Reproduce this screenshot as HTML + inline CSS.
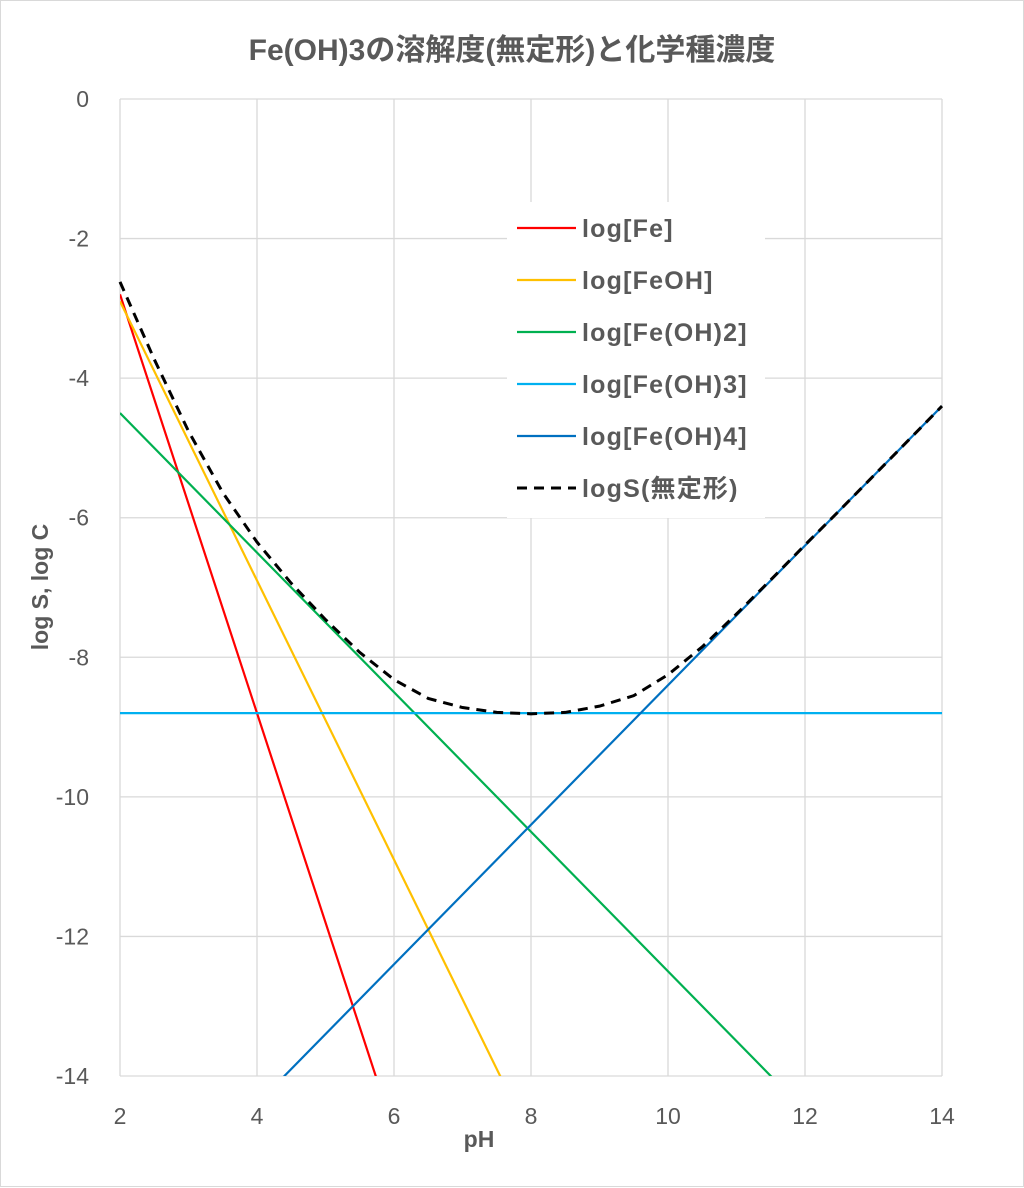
<!DOCTYPE html>
<html><head><meta charset="utf-8"><style>
html,body{margin:0;padding:0;background:#fff;overflow:hidden;width:1024px;height:1188px}
svg{display:block;overflow:hidden}
svg text{font-family:"Liberation Sans","Noto Sans CJK JP",sans-serif}
</style></head><body>
<svg id="chart" width="1024" height="1188" xmlns="http://www.w3.org/2000/svg">
<rect x="0.5" y="0.5" width="1023" height="1186" fill="#fff" stroke="#d9d9d9"/>
<text x="512" y="60" text-anchor="middle" font-size="30" font-weight="bold" fill="#595959">Fe(OH)3の溶解度(無定形)と化学種濃度</text>
<g id="grid"></g><g id="series"></g><g id="ticks"></g>
<text x="479" y="1147" text-anchor="middle" font-size="23" font-weight="bold" fill="#595959">pH</text>
<text transform="translate(48,587) rotate(-90)" text-anchor="middle" font-size="23" font-weight="bold" fill="#595959">log S, log C</text>
<g id="legend"></g>
</svg>
<script>
const xTicks=[2,4,6,8,10,12,14];
const yTicks=[0,-2,-4,-6,-8,-10,-12,-14];
const speciesNames=["log[Fe]","log[FeOH]","log[Fe(OH)2]","log[Fe(OH)3]","log[Fe(OH)4]"];
const speciesColors=["#ff0000","#ffc000","#00b050","#00b0f0","#0070c0"];
const speciesIntercept=[3.2,1.1,-2.5,-8.8,-18.4];
const speciesSlope=[-3,-2,-1,0,1];
const sPH=[2,2.5,3,3.5,4,4.5,5,5.5,6,6.5,7,7.5,8,8.5,9,9.5,10,10.5,11,11.5,12,12.5,13,13.5,14];
const sVal=[-2.62,-3.73,-4.76,-5.64,-6.35,-6.94,-7.46,-7.93,-8.32,-8.59,-8.72,-8.79,-8.81,-8.79,-8.70,-8.55,-8.25,-7.85,-7.38,-6.89,-6.39,-5.9,-5.4,-4.9,-4.4];
const X0=120,X1=942,Y0=99,Y1=1076;
const xs=v=>X0+(v-2)/12*(X1-X0);
const ys=v=>Y0+(0-v)/14*(Y1-Y0);
const NS="http://www.w3.org/2000/svg";
function mk(t,a,p){const e=document.createElementNS(NS,t);for(const k in a)e.setAttribute(k,a[k]);p.appendChild(e);return e;}
const grid=document.getElementById('grid'),ticks=document.getElementById('ticks'),ser=document.getElementById('series'),leg=document.getElementById('legend');
xTicks.forEach(v=>{const l=mk('line',{x1:xs(v),x2:xs(v),y1:Y0,y2:Y1,stroke:'#d9d9d9','stroke-width':1.3},grid);


const t=mk('text',{x:xs(v),y:1124,'text-anchor':'middle','font-size':23,fill:'#595959'},ticks);t.textContent=v;

});
yTicks.forEach(v=>{const l=mk('line',{x1:X0,x2:X1,y1:ys(v),y2:ys(v),stroke:'#d9d9d9','stroke-width':1.3},grid);


const t=mk('text',{x:89,y:ys(v)+8,'text-anchor':'end','font-size':23,fill:'#595959'},ticks);t.textContent=v;

});
const cp=mk('clipPath',{id:'clip'},ser);mk('rect',{x:X0,y:Y0,width:X1-X0,height:Y1-Y0},cp);
speciesNames.forEach((n,i)=>{const a=2,b=14;
const l=mk('line',{x1:xs(a),y1:ys(speciesIntercept[i]+speciesSlope[i]*a),x2:xs(b),y2:ys(speciesIntercept[i]+speciesSlope[i]*b),stroke:speciesColors[i],'stroke-width':2.2,'clip-path':'url(#clip)'},ser);

});
const p=mk('path',{d:sPH.map((v,i)=>(i?'L':'M')+xs(v)+' '+ys(sVal[i])).join(''),fill:'none',stroke:'#000','stroke-width':3,'stroke-dasharray':'10 7'},ser);


mk('rect',{x:507,y:202,width:258,height:316,fill:'#fff'},leg);
const legY=[228,280,332,384,436,488];
speciesNames.concat(['logS(無定形)']).forEach((n,i)=>{const g=mk('g',{},leg);


mk('line',{x1:517,x2:576,y1:legY[i],y2:legY[i],stroke:i<5?speciesColors[i]:'#000','stroke-width':i<5?2.2:3,'stroke-dasharray':i<5?'none':'10 7'},g);
const t=mk('text',{x:582,y:legY[i]+9,'font-size':25,'font-weight':'bold','letter-spacing':1.2,fill:'#595959'},g);t.textContent=n;});
</script>
</body></html>
